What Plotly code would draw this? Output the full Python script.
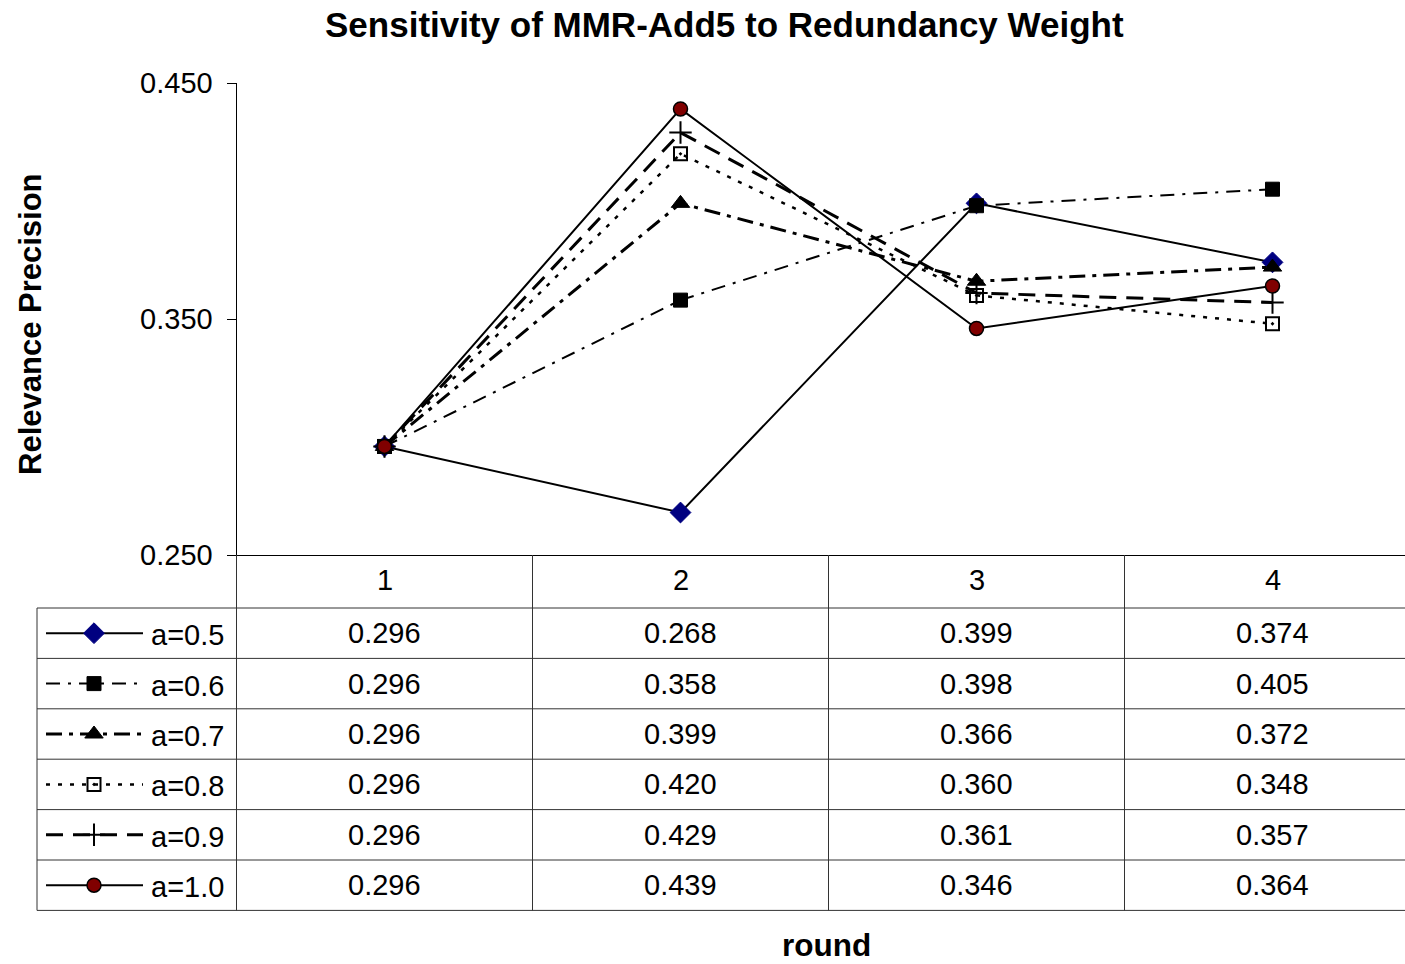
import plotly.graph_objects as go

# ---- data ----
rounds = [1, 2, 3, 4]
round_labels = ["1", "2", "3", "4"]
series_names = ["a=0.5", "a=0.6", "a=0.7", "a=0.8", "a=0.9", "a=1.0"]
a05 = [0.296, 0.268, 0.399, 0.374]
a06 = [0.296, 0.358, 0.398, 0.405]
a07 = [0.296, 0.399, 0.366, 0.372]
a08 = [0.296, 0.420, 0.360, 0.348]
a09 = [0.296, 0.429, 0.361, 0.357]
a10 = [0.296, 0.439, 0.346, 0.364]
series_values = [a05, a06, a07, a08, a09, a10]
y_ticks = [0.250, 0.350, 0.450]

# ---- styles ----
styles = [
    dict(dash="solid", width=2, symbol="diamond", size=16, color="#000080", lcolor="#000080", lw=1),
    dict(dash="14px,8px,3px,8px", width=2, symbol="square", size=14, color="#000000", lcolor="#000000", lw=1),
    dict(dash="16px,7px,4px,7px", width=3, symbol="triangle-up", size=16, color="#000000", lcolor="#000000", lw=1),
    dict(dash="4px,8px", width=2.5, symbol="square-open-dot", size=13, color="#000000", lcolor="#000000", lw=2),
    dict(dash="17px,10px", width=3, symbol="cross-thin-open", size=16, color="#000000", lcolor="#000000", lw=2),
    dict(dash="solid", width=2, symbol="circle", size=14, color="#800000", lcolor="#000000", lw=1.5),
]

W, H = 1405, 964
FONT = "Liberation Sans, Arial, sans-serif"
LINE = "#333333"

# layout geometry (pixels)
plot_left, plot_top, plot_bottom = 236.5, 83, 555
cat_w = 296.0
table_left = 37
header_bottom = 608
row_h = 50.4
table_bottom = header_bottom + row_h * len(series_names)


def px(x):
    return x / W


def py(y):
    return 1 - y / H


fig = go.Figure()

for name, vals, st in zip(series_names, series_values, styles):
    fig.add_trace(go.Scatter(
        x=rounds, y=vals, mode="lines+markers", name=name,
        line=dict(color="black", width=st["width"], dash=st["dash"]),
        marker=dict(symbol=st["symbol"], size=st["size"], color=st["color"],
                    line=dict(color=st["lcolor"], width=st["lw"])),
        xaxis="x", yaxis="y", showlegend=False, cliponaxis=False,
    ))

# legend keys inside the data table (separate pixel-space axes)
for i, (name, st) in enumerate(zip(series_names, styles)):
    yc = header_bottom + row_h * (i + 0.5)
    fig.add_trace(go.Scatter(
        x=[46, 143], y=[yc, yc], mode="lines",
        line=dict(color="black", width=st["width"], dash=st["dash"]),
        xaxis="x2", yaxis="y2", showlegend=False, hoverinfo="skip",
    ))
    fig.add_trace(go.Scatter(
        x=[94], y=[yc], mode="markers",
        marker=dict(symbol=st["symbol"], size=st["size"], color=st["color"],
                    line=dict(color=st["lcolor"], width=st["lw"])),
        xaxis="x2", yaxis="y2", showlegend=False, hoverinfo="skip",
    ))

shapes = []
shapes.append(dict(type="line", xref="paper", yref="paper",
                   x0=px(table_left), x1=1, y0=py(header_bottom), y1=py(header_bottom),
                   line=dict(color=LINE, width=1)))
for i in range(1, len(series_names) + 1):
    y = header_bottom + row_h * i
    shapes.append(dict(type="line", xref="paper", yref="paper",
                       x0=px(table_left), x1=1, y0=py(y), y1=py(y),
                       line=dict(color=LINE, width=1)))
shapes.append(dict(type="line", xref="paper", yref="paper",
                   x0=px(table_left), x1=px(table_left), y0=py(header_bottom), y1=py(table_bottom),
                   line=dict(color=LINE, width=1)))
for j in range(len(rounds)):
    x = plot_left + cat_w * j
    shapes.append(dict(type="line", xref="paper", yref="paper",
                       x0=px(x), x1=px(x), y0=py(plot_bottom), y1=py(table_bottom),
                       line=dict(color=LINE, width=1)))

annotations = []
TS = 29
for j, lab in enumerate(round_labels):
    xc = plot_left + cat_w * (j + 0.5)
    annotations.append(dict(text=lab, x=px(xc), y=py((plot_bottom + header_bottom) / 2 - 2),
                            xref="paper", yref="paper", showarrow=False,
                            xanchor="center", yanchor="middle",
                            font=dict(family=FONT, size=TS, color="black")))
for i, (name, vals) in enumerate(zip(series_names, series_values)):
    yc = header_bottom + row_h * (i + 0.5)
    annotations.append(dict(text=name, x=px(149), y=py(yc + 2), xref="paper", yref="paper",
                            showarrow=False, xanchor="left", yanchor="middle",
                            font=dict(family=FONT, size=TS, color="black")))
    for j, v in enumerate(vals):
        xc = plot_left + cat_w * (j + 0.5)
        annotations.append(dict(text=f"{v:.3f}", x=px(xc), y=py(yc), xref="paper", yref="paper",
                                showarrow=False, xanchor="center", yanchor="middle",
                                font=dict(family=FONT, size=TS, color="black")))

annotations.append(dict(text="<b>Sensitivity of MMR-Add5 to Redundancy Weight</b>",
                        x=px(724), y=py(24), xref="paper", yref="paper", showarrow=False,
                        xanchor="center", yanchor="middle",
                        font=dict(family=FONT, size=35, color="black")))
annotations.append(dict(text="<b>Relevance Precision</b>", textangle=-90,
                        x=px(30), y=py(324), xref="paper", yref="paper", showarrow=False,
                        xanchor="center", yanchor="middle",
                        font=dict(family=FONT, size=31, color="black")))
annotations.append(dict(text="<b>round</b>",
                        x=px(826), y=py(945), xref="paper", yref="paper", showarrow=False,
                        xanchor="center", yanchor="middle",
                        font=dict(family=FONT, size=31.5, color="black")))

x0 = 0.5
x1 = x0 + (W - plot_left) / cat_w

fig.update_layout(
    template="none",
    width=W, height=H,
    margin=dict(l=0, r=0, t=0, b=0, pad=0, autoexpand=False),
    paper_bgcolor="white", plot_bgcolor="rgba(0,0,0,0)",
    xaxis=dict(domain=[px(plot_left), 1], range=[x0, x1], showgrid=False, zeroline=False,
               showticklabels=False, ticks="", showline=True, linecolor="black", linewidth=1,
               automargin=False, anchor="y"),
    yaxis=dict(domain=[py(plot_bottom), py(plot_top)], range=[0.25, 0.45],
               tickvals=y_ticks, ticktext=[f"{v:.3f}" for v in y_ticks],
               ticks="outside", ticklen=9, tickcolor="black", tickwidth=1,
               showline=True, linecolor="black", linewidth=1, showgrid=False, zeroline=False,
               tickfont=dict(family=FONT, size=TS, color="black"), ticklabelstandoff=8,
               automargin=False, anchor="x"),
    xaxis2=dict(domain=[0, 1], range=[0, W], visible=False, anchor="y2", automargin=False),
    yaxis2=dict(domain=[0, 1], range=[H, 0], visible=False, anchor="x2", automargin=False),
    shapes=shapes, annotations=annotations,
    showlegend=False,
)

fig.write_html("out.html")
